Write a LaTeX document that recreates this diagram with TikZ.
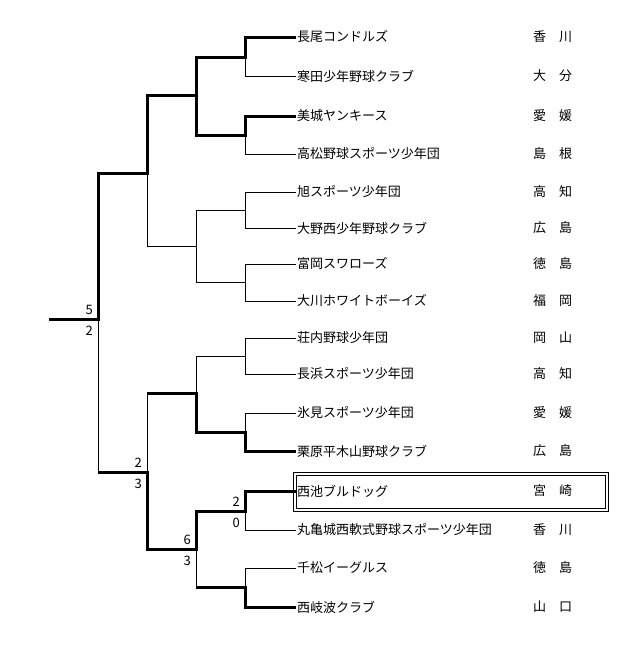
\documentclass[tikz,border=0pt]{standalone}
\usepackage{fontspec}
\setmainfont{Noto Sans CJK JP}
\usetikzlibrary{positioning}

\tikzset{
  team/.style={anchor=west,inner sep=1pt,font=\fontsize{13}{13}\selectfont},
  pref/.style={team},
  score/.style={inner sep=1pt,font=\fontsize{13}{13}\selectfont},
  loser/.style={line width=0.8pt},
  winner/.style={line width=3pt},
  hilite/.style={anchor=west,minimum width=314pt,minimum height=39pt,inner sep=0pt},
}

\begin{document}
\begin{tikzpicture}[x=1pt,y=-1pt,node distance=3pt and 4pt]
\useasboundingbox (0,0) rectangle (635,645);
\node[team] (t1)  at (296,37)  {長尾コンドルズ};         \node[pref] (p1)  at (532,37)  {香　川};
\node[team] (t2)  at (296,76)  {寒田少年野球クラブ};      \node[pref] (p2)  at (532,76)  {大　分};
\node[team] (t3)  at (296,116) {美城ヤンキース};         \node[pref] (p3)  at (532,116) {愛　媛};
\node[team] (t4)  at (296,154) {高松野球スポーツ少年団};  \node[pref] (p4)  at (532,154) {島　根};
\node[team] (t5)  at (296,192) {旭スポーツ少年団};       \node[pref] (p5)  at (532,192) {高　知};
\node[team] (t6)  at (296,228) {大野西少年野球クラブ};    \node[pref] (p6)  at (532,228) {広　島};
\node[team] (t7)  at (296,264) {富岡スワローズ};         \node[pref] (p7)  at (532,264) {徳　島};
\node[team] (t8)  at (296,301) {大川ホワイトボーイズ};    \node[pref] (p8)  at (532,301) {福　岡};
\node[team] (t9)  at (296,338) {荘内野球少年団};         \node[pref] (p9)  at (532,338) {岡　山};
\node[team] (t10) at (296,374) {長浜スポーツ少年団};      \node[pref] (p10) at (532,374) {高　知};
\node[team] (t11) at (296,413) {氷見スポーツ少年団};      \node[pref] (p11) at (532,413) {愛　媛};
\node[team] (t12) at (296,451) {栗原平木山野球クラブ};    \node[pref] (p12) at (532,451) {広　島};
\node[team] (t13) at (296,491) {西池ブルドッグ};         \node[pref] (p13) at (532,491) {宮　崎};
\node[team] (t14) at (296,530) {丸亀城西軟式野球スポーツ少年団}; \node[pref] (p14) at (532,530) {香　川};
\node[team] (t15) at (296,568) {千松イーグルス};         \node[pref] (p15) at (532,568) {徳　島};
\node[team] (t16) at (296,607) {西岐波クラブ};           \node[pref] (p16) at (532,607) {山　口};

% match points
\coordinate (a1) at (245,57);  \coordinate (a2) at (245,135);
\coordinate (a3) at (245,210); \coordinate (a4) at (245,282);
\coordinate (a5) at (245,356); \coordinate (a6) at (245,432);
\coordinate (a7) at (245,511); \coordinate (a8) at (245,587);
\coordinate (b1) at (196,95);  \coordinate (b2) at (196,246);
\coordinate (b3) at (196,393); \coordinate (b4) at (196,549);
\coordinate (c1) at (147,173); \coordinate (c2) at (147,472);
\coordinate (d1) at (98,319);  \coordinate (fin) at (49,319);

\draw[loser]
  (t1.west) -| (a1)  (t2.west) -| (a1)  (t3.west) -| (a2)  (t4.west) -| (a2)
  (t5.west) -| (a3)  (t6.west) -| (a3)  (t7.west) -| (a4)  (t8.west) -| (a4)
  (t9.west) -| (a5)  (t10.west) -| (a5) (t11.west) -| (a6) (t12.west) -| (a6)
  (t13.west) -| (a7) (t14.west) -| (a7) (t15.west) -| (a8) (t16.west) -| (a8)
  (a1) -| (b1) (a2) -| (b1) (a3) -| (b2) (a4) -| (b2)
  (a5) -| (b3) (a6) -| (b3) (a7) -| (b4) (a8) -| (b4)
  (b1) -| (c1) (b2) -| (c1) (b3) -| (c2) (b4) -| (c2)
  (c1) -| (d1) (c2) -| (d1);

\draw[winner] (t1.west) -| (a1) -| (b1) -| (c1) -| (d1) -- (fin);
\draw[winner] (t3.west) -| (a2) -| (b1);
\draw[winner] (t12.west) -| (a6) -| (b3) -- (b3 -| c2);
\draw[winner] (t13.west) -| (a7) -| (b4) -| (c2) -- (c2 -| d1);
\draw[winner] (t16.west) -| (a8) -- (a8 -| b4);

% highlighted team
\node[hilite] (box) at (293.5,492) {};
\draw[loser] (box.north west) rectangle (box.south east);
\draw[loser] ([shift={(3,3)}]box.north west) rectangle ([shift={(-3,-3)}]box.south east);

% scores
\node[score, above left=of d1] (d1a) {5};
\node[score, below left=6pt and 4pt of d1] (d1b) {2};
\node[score, above left=of c2] (c2a) {2};
\node[score, below left=6pt and 4pt of c2] (c2b) {3};
\node[score, above left=of b4] (b4a) {6};
\node[score, below left=6pt and 4pt of b4] (b4b) {3};
\node[score, above left=of a7] (a7a) {2};
\node[score, below left=6pt and 4pt of a7] (a7b) {0};
\end{tikzpicture}
\end{document}
